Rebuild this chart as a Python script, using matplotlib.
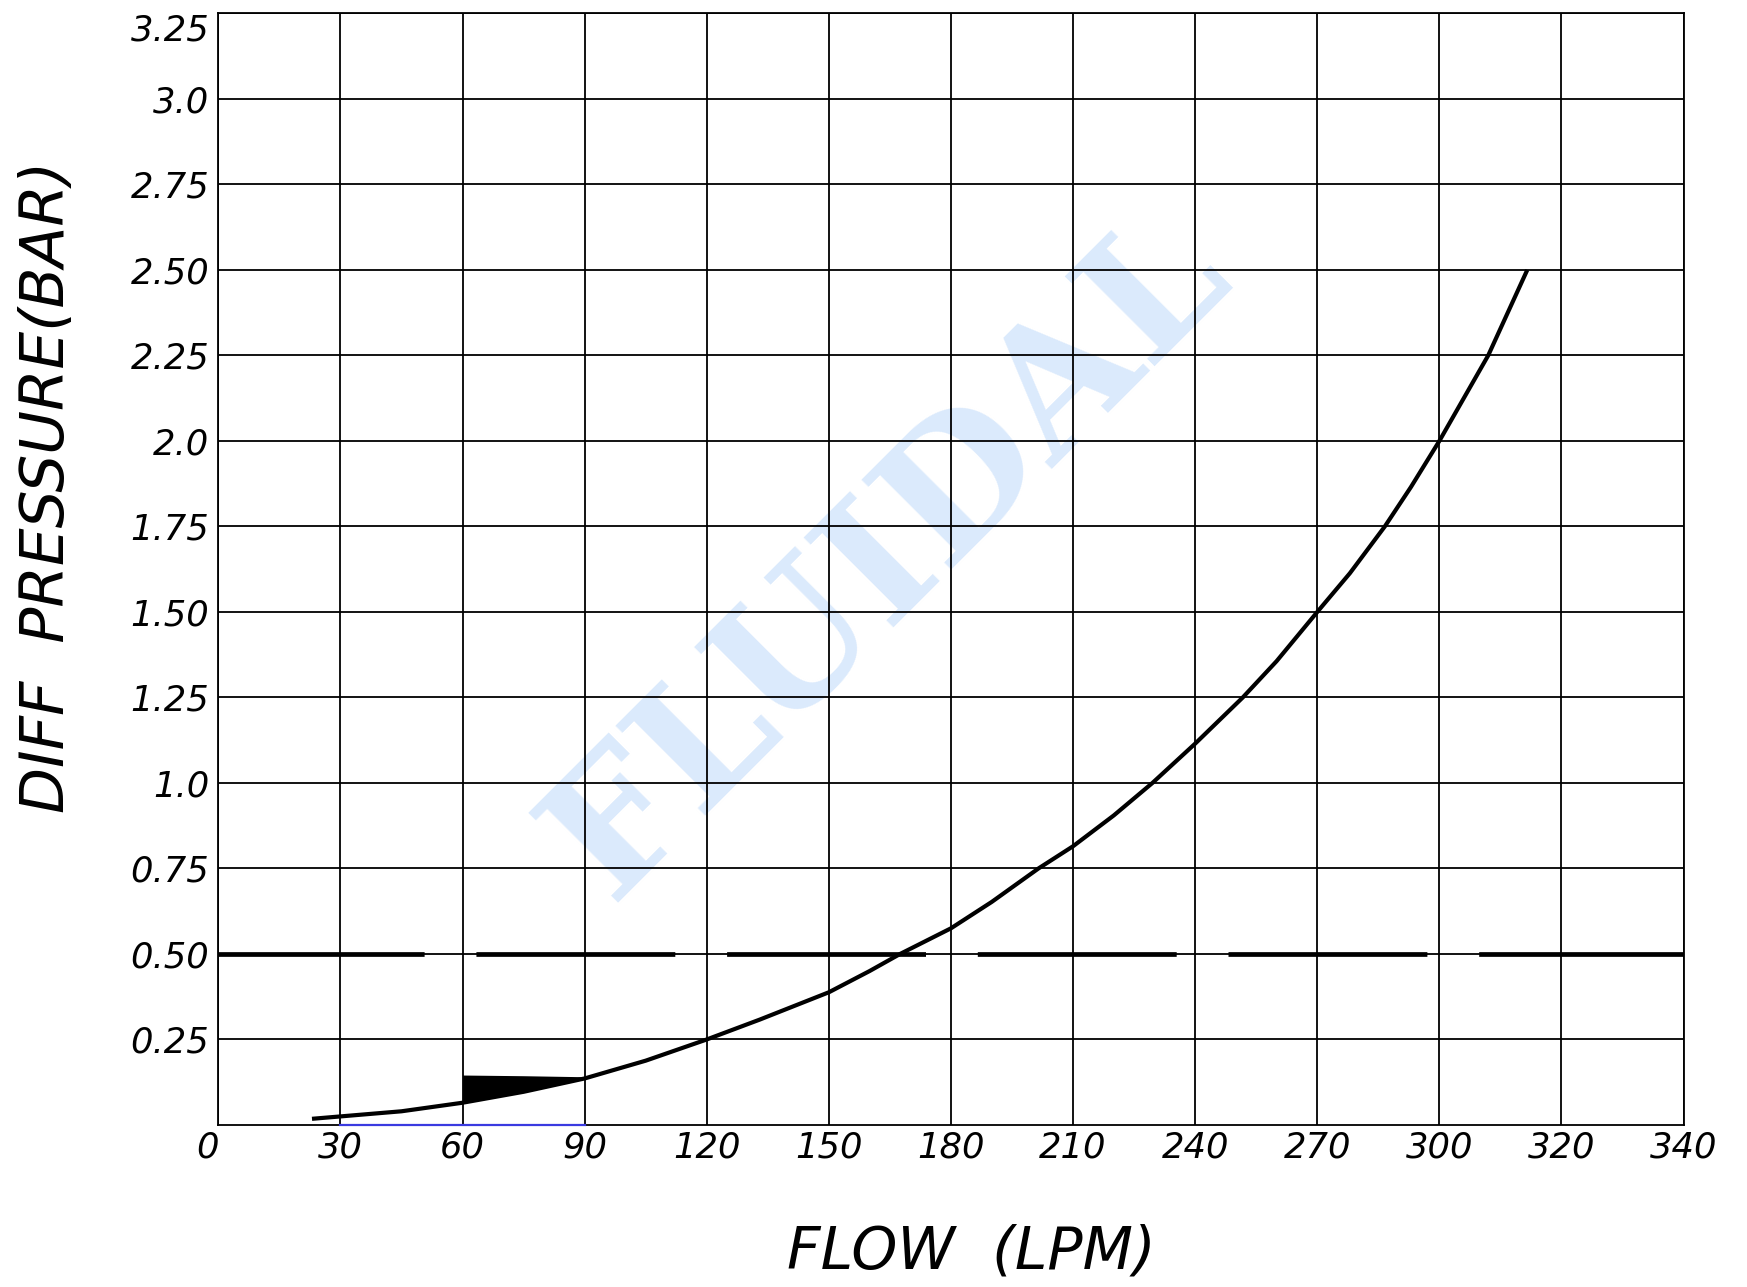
import matplotlib
matplotlib.use("Agg")
import matplotlib.pyplot as plt
import numpy as np

# ---- data ----
flow_ticks = [0, 30, 60, 90, 120, 150, 180, 210, 240, 270, 300, 320, 340]
flow_tick_labels = ['0', '30', '60', '90', '120', '150', '180', '210', '240', '270', '300', '320', '340']
pressure_ticks = [0.25, 0.5, 0.75, 1.0, 1.25, 1.5, 1.75, 2.0, 2.25, 2.5, 2.75, 3.0, 3.25]
pressure_tick_labels = ['0.25', '0.50', '0.75', '1.0', '1.25', '1.50', '1.75', '2.0', '2.25', '2.50', '2.75', '3.0', '3.25']

curve_flow = [23, 30, 45, 60, 75, 90, 105, 120, 133, 150, 160, 167.5, 180, 190, 201.5, 210, 220,
              229.5, 240, 251.7, 260, 270, 278, 286.6, 293, 300, 308, 314.4]
curve_pressure = [0.018, 0.025, 0.04, 0.065, 0.097, 0.136, 0.188, 0.25, 0.308, 0.388, 0.45, 0.5, 0.575,
                  0.652, 0.75, 0.815, 0.905, 1.0, 1.115, 1.25, 1.356, 1.5, 1.613, 1.75, 1.865, 2.0,
                  2.25, 2.5]

wedge_flow = [60, 75, 90]
wedge_bottom = [0.065, 0.097, 0.136]
wedge_top = [0.146, 0.144, 0.141]

ref_pressure = 0.5
blue_flow = [30, 90]
watermark = "FLUIDAL"

# axis positions: tick labels are evenly spaced on the drawing
def pos(f):
    return np.interp(f, flow_ticks, np.arange(len(flow_ticks)))

plt.rcParams['lines.scale_dashes'] = False
fig = plt.figure(figsize=(17.47, 12.87), dpi=100)
ax = fig.add_axes([0.125, 0.1259, 0.9637 - 0.125, 0.9896 - 0.1259])

ax.set_xlim(0, len(flow_ticks) - 1)
ax.set_ylim(0, 3.25)
ax.set_xticks(np.arange(len(flow_ticks)))
ax.set_xticklabels(flow_tick_labels)
ax.set_yticks(pressure_ticks)
ax.set_yticklabels(pressure_tick_labels)
ax.set_axisbelow(True)
ax.grid(True, color='black', lw=1.3)
for s in ax.spines.values():
    s.set_color('black')
    s.set_linewidth(1.3)
ax.tick_params(axis='both', length=0)
ax.tick_params(axis='x', pad=4)
ax.tick_params(axis='y', pad=6.5)
for lab in ax.get_xticklabels() + ax.get_yticklabels():
    lab.set_fontsize(25.5)
    lab.set_fontstyle('italic')
    lab.set_fontfamily('DejaVu Sans')
ax.get_xticklabels()[0].set_ha('right')
ax.get_yticklabels()[-1].set_va('top')

# watermark
ax.text(922 / 1747, 1 - 590 / 1287, watermark, transform=fig.transFigure, rotation=45,
        rotation_mode='anchor', ha='center', va='baseline', fontsize=126,
        fontweight='bold', family='DejaVu Serif', color='#dbeafc', zorder=0.2)

# reference dashed line
ax.plot([0, len(flow_ticks) - 1], [ref_pressure, ref_pressure], color='black', lw=3.4,
        dashes=(148.4, 37.3, 143.2, 37.3, 143.2, 37.3, 143.2, 37.3, 143.2, 37.3, 160, 37.3),
        solid_capstyle='butt', dash_capstyle='butt', zorder=2.5)

# curve
ax.plot(pos(curve_flow), curve_pressure, color='black', lw=3.0, zorder=3,
        solid_capstyle='butt', solid_joinstyle='round')
ax.fill_between(pos(wedge_flow), wedge_bottom, wedge_top, color='black', lw=0, zorder=3)

# blue baseline segment
ax.plot(pos(blue_flow), [0, 0], color='#3a3ae0', lw=1.6, zorder=4, clip_on=False)

fig.text(971 / 1747, 1 - 1252 / 1287, "FLOW  (LPM)", ha='center', va='center', fontsize=42,
         style='italic', family='DejaVu Sans')
fig.text(47 / 1747, 1 - 487 / 1287, "DIFF  PRESSURE(BAR)", ha='center', va='center', fontsize=43,
         style='italic', family='DejaVu Sans', rotation=90)

fig.savefig("out.png", dpi=100, facecolor='white')
